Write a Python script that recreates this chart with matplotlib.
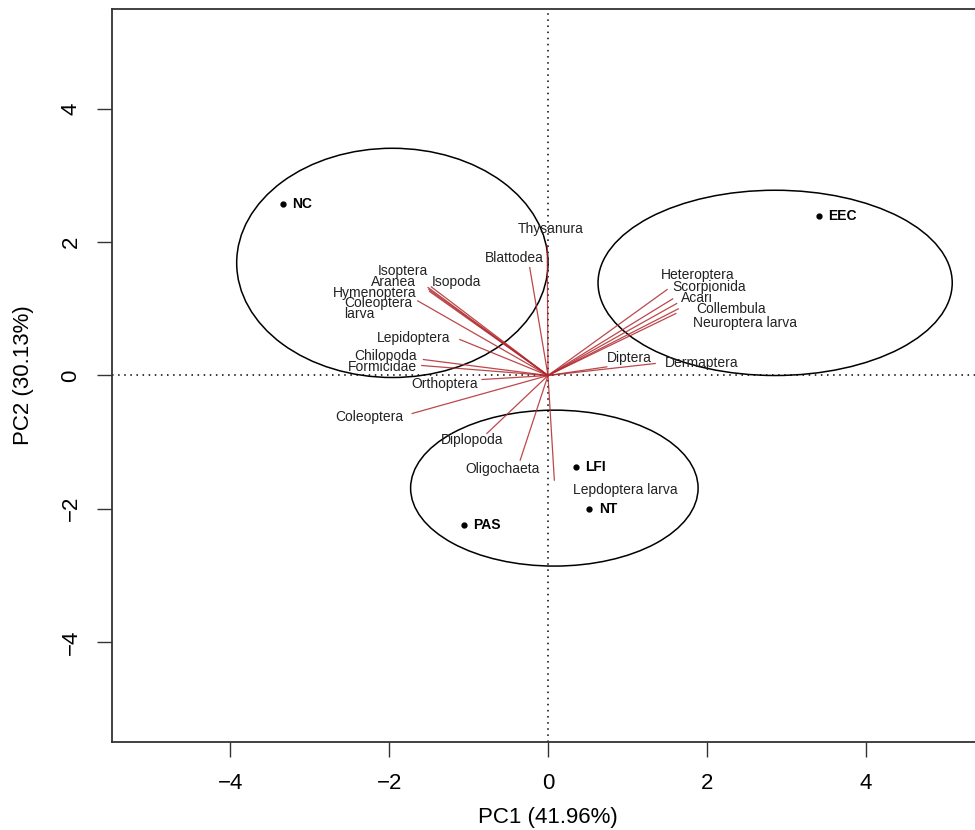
# Libraries
import numpy as np
import matplotlib.pyplot as plt
from matplotlib.patches import Ellipse

plt.rcParams['font.family'] = ['Liberation Sans', 'DejaVu Sans']

# Data: variable loadings (arrow tips) and where their labels sit
taxa = ['Isoptera', 'Aranea', 'Hymenoptera', 'Isopoda', 'Coleoptera\nlarva',
        'Lepidoptera', 'Chilopoda', 'Formicidae', 'Orthoptera', 'Coleoptera',
        'Blattodea', 'Thysanura', 'Diplopoda', 'Oligochaeta', 'Lepdoptera larva',
        'Heteroptera', 'Scorpionida', 'Acari', 'Collembula', 'Neuroptera larva',
        'Diptera', 'Dermaptera']
pc1 = [-1.51, -1.50, -1.49, -1.47, -1.64,
       -1.11, -1.57, -1.59, -0.83, -1.71,
       -0.23, -0.01, -0.77, -0.35, 0.08,
       1.50, 1.57, 1.62, 1.64, 1.61,
       0.74, 1.35]
pc2 = [1.32, 1.29, 1.26, 1.33, 1.12,
       0.54, 0.24, 0.15, -0.06, -0.57,
       1.62, 1.95, -0.87, -1.27, -1.57,
       1.29, 1.15, 1.08, 1.00, 0.93,
       0.13, 0.18]
label_x = [-1.83, -1.94, -2.18, -1.15, -2.14,
           -1.69, -2.04, -2.09, -1.30, -2.25,
           -0.43, 0.04, -0.96, -0.57, 0.97,
           1.89, 2.03, 1.88, 2.31, 2.48,
           1.03, 1.94]
label_y = [1.57, 1.41, 1.245, 1.41, 1.005,
           0.57, 0.30, 0.13, -0.13, -0.63,
           1.77, 2.20, -0.97, -1.41, -1.72,
           1.51, 1.33, 1.17, 1.00, 0.79,
           0.27, 0.19]

# Sites (scores)
sites = ['NC', 'EEC', 'LFI', 'NT', 'PAS']
site_x = [-3.34, 3.41, 0.35, 0.52, -1.06]
site_y = [2.58, 2.40, -1.38, -2.01, -2.25]

# Group ellipses: centre and full width/height
ell_cx = [-1.96, 2.86, 0.08]
ell_cy = [1.69, 1.39, -1.69]
ell_w = [3.92, 4.46, 3.62]
ell_h = [3.44, 2.78, 2.34]

# Visualization
fig = plt.figure(figsize=(9.75, 8.3), dpi=100)
ax = fig.add_axes([112 / 975, 88 / 830, 872 / 975, 733 / 830])
ax.set_xlim(-5.49, 5.49)
ax.set_ylim(-5.5, 5.5)

ax.axvline(0, color='black', lw=1.1, linestyle=(0, (1, 3)))
ax.axhline(0, color='black', lw=1.1, linestyle=(0, (1, 3)))

for cx, cy, w, h in zip(ell_cx, ell_cy, ell_w, ell_h):
    ax.add_patch(Ellipse((cx, cy), w, h, fill=False, ec='black', lw=1.1))

for x, y in zip(pc1, pc2):
    ax.plot([0, x], [0, y], color='#b0282c', lw=0.9, alpha=0.85)

for name, lx, ly in zip(taxa, label_x, label_y):
    ax.text(lx, ly, name, fontsize=10, color='#222222', ha='center', va='center',
            multialignment='left', linespacing=0.8)

ax.plot(site_x, site_y, 'o', color='black', markersize=3.5, linestyle='none')
for name, x, y in zip(sites, site_x, site_y):
    ax.annotate(name, (x, y), xytext=(7, 0), textcoords='offset points',
                fontsize=10, fontweight='bold', va='center', ha='left')

ax.set_xticks([-4, -2, 0, 2, 4])
ax.set_yticks([-4, -2, 0, 2, 4])
ax.tick_params(length=11, width=1, pad=11, labelsize=16, color='#333333')
ax.tick_params(axis='y', labelrotation=90)
for lab in ax.get_yticklabels():
    lab.set_va('center')
for sp in ax.spines.values():
    sp.set_linewidth(1.3)
    sp.set_color('#333333')

ax.set_xlabel('PC1 (41.96%)', fontsize=16, labelpad=10)
ax.set_ylabel('PC2 (30.13%)', fontsize=16, labelpad=19)

fig.savefig('out.png', dpi=100)
